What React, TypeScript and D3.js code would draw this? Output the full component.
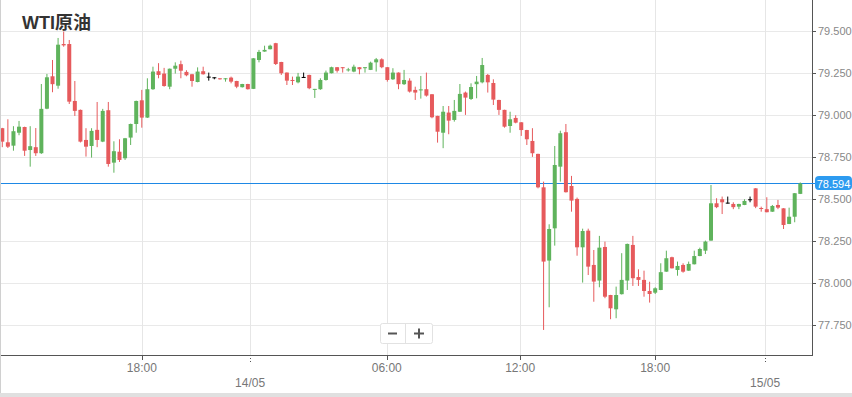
import React from "react";
import * as d3 from "d3";

const opens = [78.923,78.839,78.819,78.896,78.930,78.793,78.810,78.774,79.039,79.232,79.176,79.424,79.424,79.085,79.032,78.853,78.817,78.913,78.843,79.030,78.718,78.783,78.744,78.867,78.948,79.089,78.986,79.155,79.262,79.248,79.170,79.277,79.304,79.258,79.244,79.198,79.262,79.230,79.226,79.220,79.214,79.224,79.204,79.167,79.186,79.157,79.329,79.379,79.393,79.429,79.317,79.254,79.210,79.196,79.228,79.240,79.151,79.155,79.210,79.250,79.286,79.286,79.267,79.260,79.286,79.280,79.270,79.315,79.333,79.286,79.214,79.254,79.185,79.206,79.151,79.148,79.155,79.125,78.996,78.896,79.016,78.972,79.021,79.135,79.097,79.185,79.196,79.240,79.192,79.091,79.032,78.936,78.984,78.958,78.912,78.847,78.770,78.571,78.135,78.327,78.694,78.899,78.579,78.502,78.214,78.313,78.109,78.016,78.216,77.930,77.845,77.935,78.016,78.228,78.037,78.020,77.954,77.944,77.960,78.069,78.155,78.079,78.109,78.075,78.113,78.162,78.194,78.254,78.476,78.500,78.480,78.472,78.456,78.466,78.500,78.565,78.448,78.441,78.426,78.466,78.446,78.353,78.396,78.532];
const highs = [78.925,78.976,78.935,78.966,78.932,78.935,78.924,79.186,79.246,79.329,79.460,79.498,79.448,79.204,79.034,78.923,78.923,79.079,79.038,79.079,78.845,78.857,78.865,78.950,79.087,79.151,79.220,79.289,79.310,79.282,79.278,79.315,79.325,79.268,79.246,79.285,79.289,79.254,79.226,79.220,79.221,79.230,79.205,79.187,79.187,79.340,79.389,79.414,79.420,79.431,79.318,79.255,79.230,79.252,79.254,79.241,79.157,79.220,79.266,79.289,79.287,79.287,79.282,79.301,79.287,79.287,79.319,79.341,79.339,79.287,79.280,79.255,79.270,79.220,79.170,79.234,79.254,79.126,78.997,79.055,79.055,79.091,79.186,79.141,79.190,79.234,79.341,79.246,79.214,79.092,79.033,79.021,79.000,78.959,78.913,78.923,78.771,78.605,78.351,78.817,78.908,78.948,78.639,78.510,78.325,78.325,78.198,78.282,78.248,77.931,77.980,78.179,78.236,78.282,78.083,78.075,78.009,77.976,78.119,78.194,78.158,78.129,78.119,78.129,78.194,78.212,78.254,78.585,78.506,78.516,78.516,78.482,78.473,78.500,78.516,78.566,78.456,78.512,78.466,78.496,78.447,78.450,78.537,78.600];
const lows = [78.810,78.805,78.789,78.881,78.758,78.694,78.758,78.770,79.036,79.137,79.158,79.408,79.067,78.996,78.838,78.754,78.748,78.810,78.840,78.694,78.658,78.722,78.734,78.823,78.896,78.926,78.984,79.151,79.220,79.170,79.155,79.248,79.220,79.232,79.170,79.196,79.242,79.206,79.214,79.212,79.200,79.190,79.161,79.165,79.153,79.156,79.315,79.378,79.392,79.299,79.240,79.180,79.180,79.190,79.222,79.155,79.103,79.151,79.206,79.249,79.254,79.254,79.260,79.256,79.244,79.254,79.269,79.260,79.280,79.200,79.210,79.155,79.180,79.135,79.091,79.099,79.111,78.982,78.837,78.804,78.887,78.962,79.020,79.002,79.091,79.101,79.190,79.135,79.061,79.002,78.926,78.896,78.952,78.877,78.823,78.752,78.565,77.722,77.857,78.224,78.605,78.540,78.426,78.164,78.004,78.049,77.890,77.976,77.911,77.786,77.792,77.933,77.960,77.984,77.984,77.920,77.885,77.936,77.959,78.068,78.088,78.045,78.063,78.074,78.112,78.161,78.174,78.253,78.447,78.412,78.475,78.441,78.441,78.465,78.482,78.447,78.426,78.422,78.425,78.441,78.323,78.352,78.363,78.531];
const closes = [78.843,78.813,78.905,78.932,78.789,78.816,78.774,79.038,79.226,79.185,79.420,79.416,79.081,79.026,78.843,78.813,78.907,78.853,79.026,78.710,78.786,78.734,78.863,78.948,79.085,78.986,79.155,79.260,79.240,79.174,79.277,79.295,79.265,79.238,79.204,79.260,79.244,79.230,79.226,79.214,79.220,79.200,79.170,79.186,79.155,79.339,79.377,79.389,79.414,79.305,79.250,79.206,79.204,79.230,79.228,79.161,79.157,79.210,79.254,79.286,79.265,79.280,79.273,79.289,79.274,79.286,79.313,79.333,79.286,79.210,79.254,79.185,79.210,79.141,79.135,79.154,79.117,78.988,78.902,79.021,78.968,79.026,79.127,79.105,79.168,79.200,79.299,79.196,79.093,79.032,78.932,78.976,78.956,78.912,78.857,78.774,78.571,78.129,78.323,78.704,78.893,78.542,78.492,78.214,78.311,78.099,78.010,78.212,77.920,77.851,77.930,78.020,78.234,78.030,78.020,77.954,77.936,77.970,78.066,78.149,78.089,78.103,78.069,78.115,78.162,78.204,78.248,78.476,78.453,78.482,78.480,78.453,78.472,78.490,78.500,78.456,78.442,78.423,78.460,78.450,78.347,78.396,78.536,78.594];

const yTicks = [77.75, 78.0, 78.25, 78.5, 78.75, 79.0, 79.25, 79.5];
const timeTickPos = [25, 68.9, 92.8, 117];
const timeTickLabels = ["18:00", "06:00", "12:00", "18:00"];
const dateTickPos = [44.4, 136.7];
const dateTickLabels = ["14/05", "15/05"];
const lastPrice = 78.594;
const title = "WTI原油";

const W = 852;
const H = 397;
const plotR = 812;
const plotB = 355;
const GREEN = "#5fb35c";
const RED = "#e65a5c";
const BLUE = "#1e88e5";

export default function App() {
  const x = d3.scaleLinear().domain([-0.41, 145.1]).range([0, plotR]);
  const y = d3.scaleLinear().domain([77.573, 79.686]).range([plotB, 0]);
  const bw = 4;
  const candles = opens.map((o, i) => ({ o, h: highs[i], l: lows[i], c: closes[i], i }));
  const fmt = d3.format(".3f");
  const gridPos = [...timeTickPos, ...dateTickPos];
  const font = "'Liberation Sans', Arial, sans-serif";
  const lastY = Math.round(y(lastPrice));
  return (
    <svg width={W} height={H} style={{ position: "absolute", left: 0, top: 0, background: "#fff" }} fontFamily={font}>
      <rect x={0} y={0} width={W} height={H} fill="#fff" />
      {yTicks.map((t) => (
        <line key={"hg" + t} x1={0} x2={plotR} y1={Math.round(y(t)) + 0.5} y2={Math.round(y(t)) + 0.5} stroke="#e9e9e9" strokeWidth={1} />
      ))}
      {gridPos.map((p) => (
        <line key={"vg" + p} x1={Math.round(x(p)) + 0.5} x2={Math.round(x(p)) + 0.5} y1={0} y2={plotB} stroke="#e6e6e6" strokeWidth={1} />
      ))}
      <rect x={10} y={0} width={93} height={31} fill="#fff" />
      <text x={22} y={29} fontSize={18} fontWeight="bold" fill="#333" fontFamily="'Liberation Sans', 'Noto Sans CJK SC', sans-serif">{title}</text>
      <rect x={0} y={lastY} width={plotR} height={1} fill={BLUE} />
      {candles.map((d) => {
        const col = d.c > d.o ? GREEN : d.c < d.o ? RED : "#000";
        const cx = x(d.i);
        const top = y(Math.max(d.o, d.c));
        const bot = y(Math.min(d.o, d.c));
        const bh = Math.max(1, bot - top);
        return (
          <g key={d.i}>
            <line x1={cx} x2={cx} y1={y(d.h)} y2={y(d.l)} stroke={col} strokeWidth={1} />
            <rect x={cx - bw / 2} y={top} width={bw} height={bh} fill={col} />
          </g>
        );
      })}
      <line x1={plotR + 0.5} x2={plotR + 0.5} y1={0} y2={plotB} stroke="#555" strokeWidth={1} />
      <line x1={0} x2={plotR + 1} y1={plotB + 0.5} y2={plotB + 0.5} stroke="#555" strokeWidth={1} />
      <line x1={0.5} x2={0.5} y1={0} y2={H - 4} stroke="#d0d0d0" strokeWidth={1} />
      {yTicks.map((t) => (
        <g key={"yt" + t}>
          <line x1={plotR} x2={plotR + 4} y1={Math.round(y(t)) + 0.5} y2={Math.round(y(t)) + 0.5} stroke="#555" />
          <text x={818} y={y(t) + 4} fontSize={11} fill="#888">{fmt(t)}</text>
        </g>
      ))}
      <rect x={plotR} y={lastY} width={4} height={1} fill={BLUE} />
      <rect x={815} y={lastY - 7} width={37} height={14} rx={4} fill="#2d9bf0" />
      <text x={833.5} y={lastY + 4.5} fontSize={11} fill="#fff" textAnchor="middle">{fmt(lastPrice)}</text>
      {timeTickPos.map((p, k) => (
        <g key={"tt" + k}>
          <line x1={Math.round(x(p)) + 0.5} x2={Math.round(x(p)) + 0.5} y1={plotB} y2={plotB + 5} stroke="#555" />
          <text x={x(p)} y={372} fontSize={12} fill="#777" textAnchor="middle">{timeTickLabels[k]}</text>
        </g>
      ))}
      {dateTickPos.map((p, k) => (
        <g key={"dt" + k}>
          <line x1={Math.round(x(p)) + 0.5} x2={Math.round(x(p)) + 0.5} y1={plotB} y2={plotB + 9} stroke="#555" strokeDasharray="1,2" />
          <text x={x(p)} y={387} fontSize={12} fill="#777" textAnchor="middle">{dateTickLabels[k]}</text>
        </g>
      ))}
      <g>
        <rect x={380.5} y={323.5} width={52} height={20} rx={2} fill="#fff" stroke="#e2e2e2" />
        <line x1={405.5} x2={405.5} y1={324} y2={343} stroke="#e2e2e2" />
        <line x1={388} x2={397} y1={333.5} y2={333.5} stroke="#555" strokeWidth={2} />
        <line x1={414} x2={424} y1={333.5} y2={333.5} stroke="#555" strokeWidth={2} />
        <line x1={419} x2={419} y1={328.5} y2={338.5} stroke="#555" strokeWidth={2} />
      </g>
      <rect x={0} y={H - 4} width={W} height={4} fill="#e0e0e0" />
    </svg>
  );
}
